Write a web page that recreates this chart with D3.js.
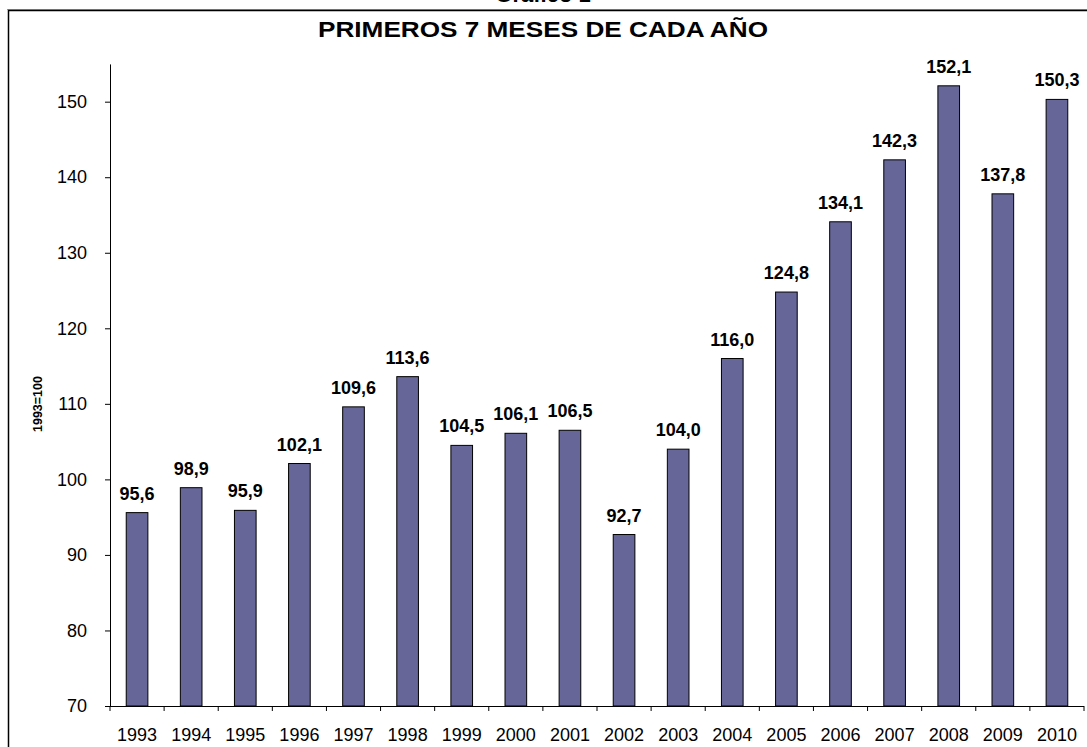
<!DOCTYPE html>
<html>
<head>
<meta charset="utf-8">
<script src="https://cdn.jsdelivr.net/npm/d3@7"></script>
<style>
html,body{margin:0;padding:0;background:#fff;overflow:hidden;}
svg{display:block;font-family:"Liberation Sans",Arial,sans-serif;}
</style>
</head>
<body>
<svg id="chart" width="1087" height="747"></svg>
<script>
const years = ["1993","1994","1995","1996","1997","1998","1999","2000","2001","2002","2003","2004","2005","2006","2007","2008","2009","2010"];
const values = [95.6,98.9,95.9,102.1,109.6,113.6,104.5,106.1,106.5,92.7,104.0,116.0,124.8,134.1,142.3,152.1,137.8,150.3];
const yTicks = [70,80,90,100,110,120,130,140,150];
const title = "PRIMEROS 7 MESES DE CADA AÑO";
const topTitle = "Gráfico 1";
const yLabel = "1993=100";

const svg = d3.select("#chart");
const x0 = 110, x1 = 1084, yBase = 706;
const x = d3.scaleBand().domain(years).range([x0, x1]).paddingInner(0.6).paddingOuter(0.3);
const y = d3.scaleLinear().domain([70, 155]).range([yBase, yBase - 85*7.554]);

// partially clipped top title (cut off in the reference as well)
svg.append("text").attr("x", 543).attr("y", 2).attr("text-anchor","middle")
  .attr("font-size", 22).attr("font-weight","bold").attr("fill","#000").text(topTitle);

// frame
svg.append("line").attr("x1",7).attr("x2",1090).attr("y1",9.5).attr("y2",9.5).attr("stroke","#999").attr("stroke-width",1);
svg.append("rect").attr("x",8.5).attr("y",10.5).attr("width",1200).attr("height",900)
  .attr("fill","none").attr("stroke","#000").attr("stroke-width",1.5);

svg.append("text").attr("x", 318).attr("y", 37)
  .attr("font-size", 22).attr("font-weight","bold")
  .attr("textLength", 450).attr("lengthAdjust","spacingAndGlyphs").text(title);

// bars
svg.selectAll("rect.bar").data(values).enter().append("rect").attr("class","bar")
  .attr("x",(d,i)=>x(years[i])).attr("width",x.bandwidth())
  .attr("y",d=>y(d)).attr("height",d=>yBase - y(d))
  .attr("fill","#666699").attr("stroke","#000").attr("stroke-width",1);

// value labels
svg.selectAll("text.val").data(values).enter().append("text").attr("class","val")
  .attr("x",(d,i)=>x(years[i]) + x.bandwidth()/2).attr("y",d=>y(d)-13)
  .attr("text-anchor","middle").attr("font-size",18).attr("font-weight","bold")
  .text(d=>d.toFixed(1).replace(".",","));

// y axis
const yAxis = d3.axisLeft(y).tickValues(yTicks).tickSize(5).tickPadding(18).tickSizeOuter(0);
const gy = svg.append("g").attr("transform",`translate(${x0},0)`).call(yAxis);
gy.selectAll("text").attr("font-size",18).attr("fill","#000").attr("font-family","Liberation Sans, Arial, sans-serif");
gy.selectAll("line,path").attr("stroke","#000");

// x axis
const xAxis = d3.axisBottom(x).tickSize(0).tickPadding(22);
const gx = svg.append("g").attr("transform",`translate(0,${yBase})`).call(xAxis);
gx.selectAll("text").attr("font-size",18).attr("fill","#000").attr("font-family","Liberation Sans, Arial, sans-serif");
gx.select("path").attr("stroke","#000").attr("d",`M${x0},0.5H${x1}`);
const bounds = d3.range(years.length + 1).map(i => x0 + i*(x1-x0)/years.length);
gx.selectAll("line.bt").data(bounds).enter().append("line").attr("class","bt")
  .attr("x1",d=>d).attr("x2",d=>d).attr("y1",0).attr("y2",5).attr("stroke","#000");

// y label
svg.append("text").attr("transform","translate(42,404) rotate(-90)").attr("text-anchor","middle")
  .attr("font-size",12.5).attr("font-weight","bold").text(yLabel);
</script>
</body>
</html>
